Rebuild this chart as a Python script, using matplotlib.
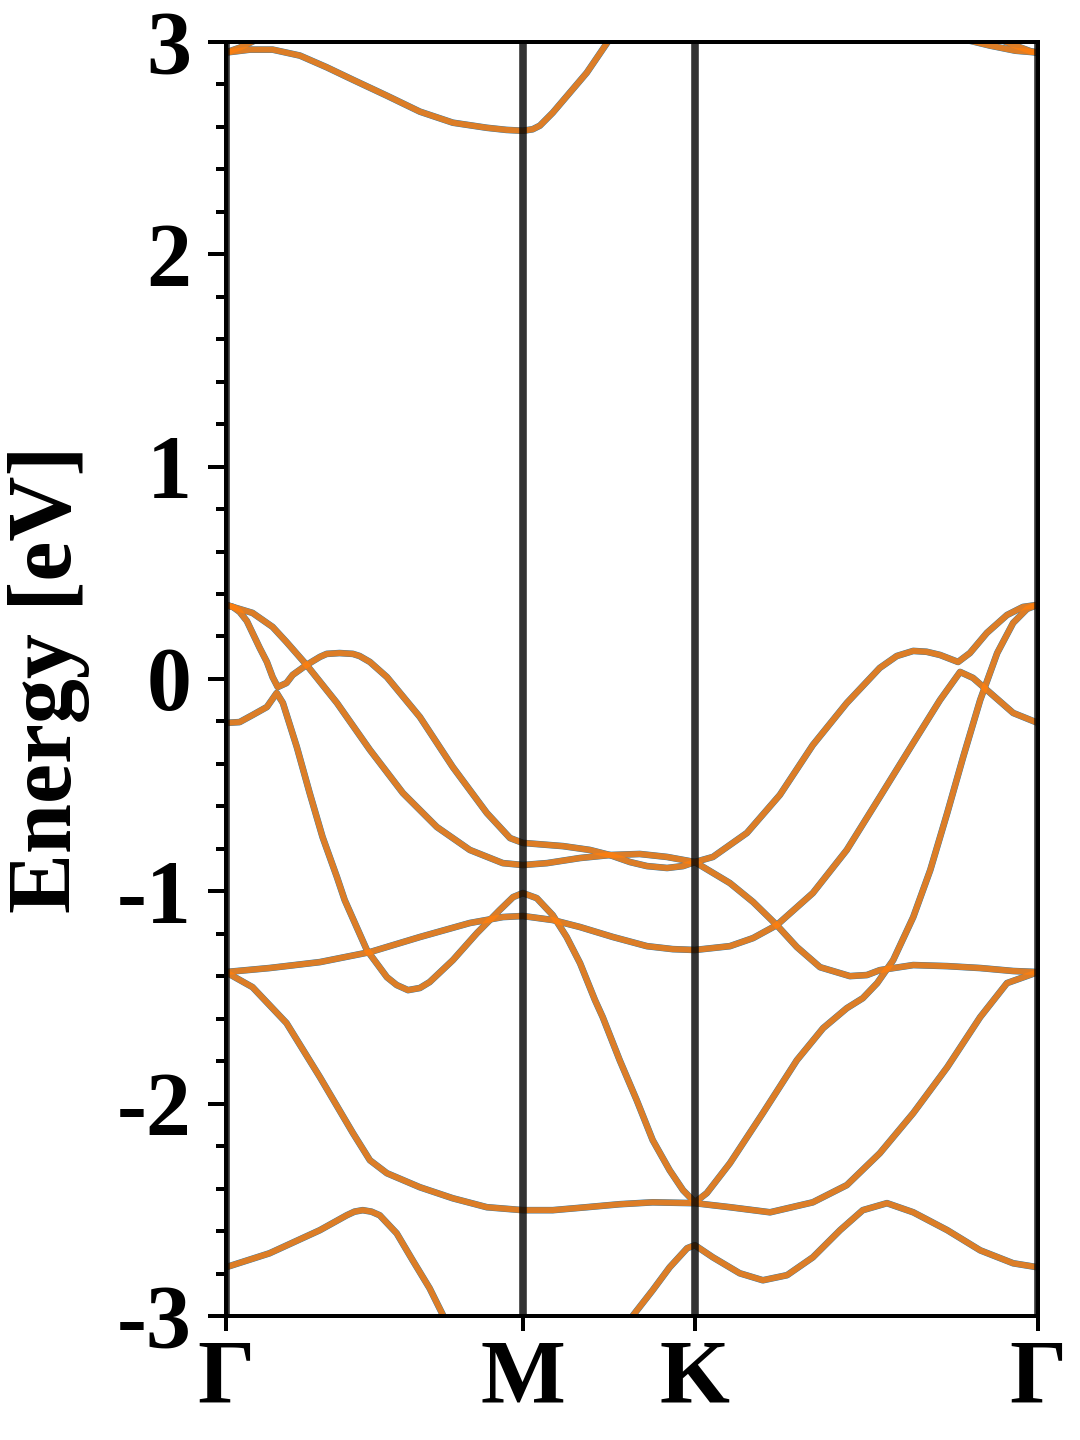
import matplotlib
matplotlib.use("Agg")
import matplotlib.pyplot as plt
from matplotlib.ticker import MultipleLocator

plt.rcParams['font.family'] = ['Liberation Serif', 'DejaVu Serif']
plt.rcParams['font.weight'] = 'bold'
plt.rcParams['axes.unicode_minus'] = False

# high-symmetry points (path length along G-M-K-G)
kpts = [0.0, 0.577, 0.911, 1.577]
klabels = ['Γ', 'M', 'K', 'Γ']

# bands: (k, E in eV)
c1_k = [0, .047, .091, .144, .196, .247, .313, .377, .441, .507, .545, .577, .596, .610, .635, .668, .701, .742, .765]
c1_e = [2.949, 2.963, 2.963, 2.935, 2.880, 2.821, 2.746, 2.671, 2.619, 2.595, 2.585, 2.581, 2.588, 2.605, 2.666, 2.760, 2.854, 3.0, 3.085]

c2_k = [0, .027, .060, .085]
c2_e = [2.949, 2.972, 3.01, 3.05]

c3_k = [1.436, 1.484, 1.533, 1.577]
c3_e = [3.01, 2.982, 2.958, 2.949]

c4_k = [1.504, 1.533, 1.562, 1.577]
c4_e = [3.01, 2.982, 2.956, 2.949]

v1_k = [0, .014, .027, .041, .052, .066, .080, .091, .101, .118, .130, .157, .183, .196, .221, .247,
        .260, .280, .313, .377, .441, .507, .552, .577,
        .655, .707, .746, .785, .818, .857, .888, .911, .946, 1.012, 1.076, 1.140, 1.206, 1.270,
        1.303, 1.335, 1.361, 1.387, 1.422, 1.445, 1.478, 1.517, 1.548, 1.577]
v1_e = [.349, .339, .316, .273, .217, .146, .080, .009, -.038, -.019, .019, .066, .104, .118, .122, .118,
        .108, .080, .009, -.179, -.415, -.631, -.749, -.772,
        -.787, -.805, -.829, -.862, -.881, -.890, -.881, -.862, -.838, -.725, -.546, -.311, -.113, .052,
        .108, .132, .128, .113, .080, .122, .217, .301, .339, .349]

v2_k = [0, .027, .052, .080, .099, .111, .138, .163, .188, .216, .231, .274, .313, .332, .354, .377,
        .396, .441, .488, .532, .558, .577, .604, .635, .662, .688, .717, .732, .765, .798, .829, .862,
        .888, .911, .934, .979, 1.043, 1.109, 1.160, 1.206, 1.237, 1.265, 1.296, 1.335, 1.368, 1.401,
        1.432, 1.465, 1.498, 1.529, 1.556, 1.577]
v2_e = [-.207, -.203, -.170, -.132, -.066, -.113, -.320, -.537, -.744, -.933, -1.041, -1.276, -1.404,
        -1.441, -1.465, -1.455, -1.427, -1.324, -1.196, -1.088, -1.027, -1.008, -1.032, -1.112, -1.215,
        -1.338, -1.512, -1.592, -1.795, -1.983, -2.171, -2.313, -2.407, -2.464, -2.421, -2.280, -2.044,
        -1.795, -1.644, -1.550, -1.503, -1.432, -1.324, -1.121, -.900, -.631, -.367, -.099, .122, .264,
        .330, .349]

v3_k = [0, .052, .091, .118, .157, .216, .280, .344, .410, .474, .538, .577, .624, .688, .746, .804,
        .857, .911, .979, 1.024, 1.070, 1.109, 1.154, 1.212, 1.245, 1.270, 1.335, 1.401, 1.465, 1.529, 1.577]
v3_e = [.349, .311, .245, .174, .066, -.113, -.334, -.537, -.697, -.805, -.867, -.876, -.867, -.843,
        -.829, -.824, -.838, -.862, -.961, -1.050, -1.159, -1.262, -1.357, -1.399, -1.394, -1.371,
        -1.347, -1.352, -1.361, -1.375, -1.380]

v4_k = [0, .085, .183, .280, .377, .474, .538, .577, .635, .688, .752, .818, .868, .911, .979, 1.024,
        1.070, 1.140, 1.206, 1.270, 1.335, 1.387, 1.426, 1.451, 1.478, 1.529, 1.577]
v4_e = [-1.380, -1.361, -1.333, -1.286, -1.215, -1.149, -1.121, -1.116, -1.135, -1.168, -1.215, -1.258,
        -1.272, -1.276, -1.258, -1.220, -1.159, -1.008, -.805, -.556, -.301, -.099, .033, .005, -.052,
        -.160, -.207]

v5_k = [0, .052, .118, .183, .247, .280, .313, .377, .441, .507, .577, .635, .701, .765, .829, .911,
        .979, 1.057, 1.140, 1.206, 1.270, 1.335, 1.401, 1.465, 1.517, 1.577]
v5_e = [-1.380, -1.451, -1.620, -1.875, -2.138, -2.266, -2.327, -2.393, -2.445, -2.487, -2.501, -2.501,
        -2.487, -2.473, -2.464, -2.468, -2.487, -2.511, -2.464, -2.383, -2.233, -2.044, -1.828, -1.592,
        -1.432, -1.380]

v6_k = [0, .085, .183, .235, .250, .266, .283, .299, .332, .363, .396, .422, .445]
v6_e = [-2.770, -2.704, -2.595, -2.525, -2.508, -2.501, -2.508, -2.525, -2.610, -2.737, -2.869, -2.996, -3.114]

v7_k = [.775, .791, .829, .862, .896, .911, .946, .998, 1.043, 1.090, 1.140, 1.193, 1.237, 1.284,
        1.335, 1.401, 1.465, 1.529, 1.577]
v7_e = [-3.090, -2.996, -2.878, -2.770, -2.680, -2.666, -2.723, -2.798, -2.831, -2.807, -2.723, -2.595,
        -2.501, -2.468, -2.511, -2.595, -2.690, -2.751, -2.770]

bands = [(c1_k, c1_e), (c2_k, c2_e), (c3_k, c3_e), (c4_k, c4_e),
         (v1_k, v1_e), (v2_k, v2_e), (v3_k, v3_e), (v4_k, v4_e),
         (v5_k, v5_e), (v6_k, v6_e), (v7_k, v7_e)]

fig = plt.figure(figsize=(7.5, 10), dpi=144)
ax = fig.add_axes([0.209, 0.086, 0.752, 0.885])

# spin up underneath, spin down on top
for k, e in bands:
    ax.plot(k, e, color='C0', lw=3.3, zorder=2, solid_joinstyle='round')
for k, e in bands:
    ax.plot(k, e, color='C1', lw=3.0, alpha=0.85, zorder=2.5, solid_joinstyle='round')

for x in kpts:
    ax.axvline(x, color='k', lw=3.8, alpha=0.8, zorder=3)

ax.set_xlim(kpts[0], kpts[-1])
ax.set_ylim(-3, 3)
ax.set_xticks(kpts)
ax.set_xticklabels(klabels)
ax.yaxis.set_major_locator(MultipleLocator(1))
ax.yaxis.set_minor_locator(MultipleLocator(0.2))

ax.tick_params(axis='y', which='major', direction='out', length=9, width=2, labelsize=45, pad=8)
ax.tick_params(axis='y', which='minor', direction='out', length=5, width=2)
ax.tick_params(axis='x', which='major', direction='out', length=7.5, width=2, labelsize=45, pad=4)
for sp in ax.spines.values():
    sp.set_linewidth(2)

ax.set_ylabel('Energy [eV]', fontsize=45, fontweight='bold')
ax.yaxis.set_label_coords(-0.167, 0.5)

fig.savefig('out.png', dpi=144)
